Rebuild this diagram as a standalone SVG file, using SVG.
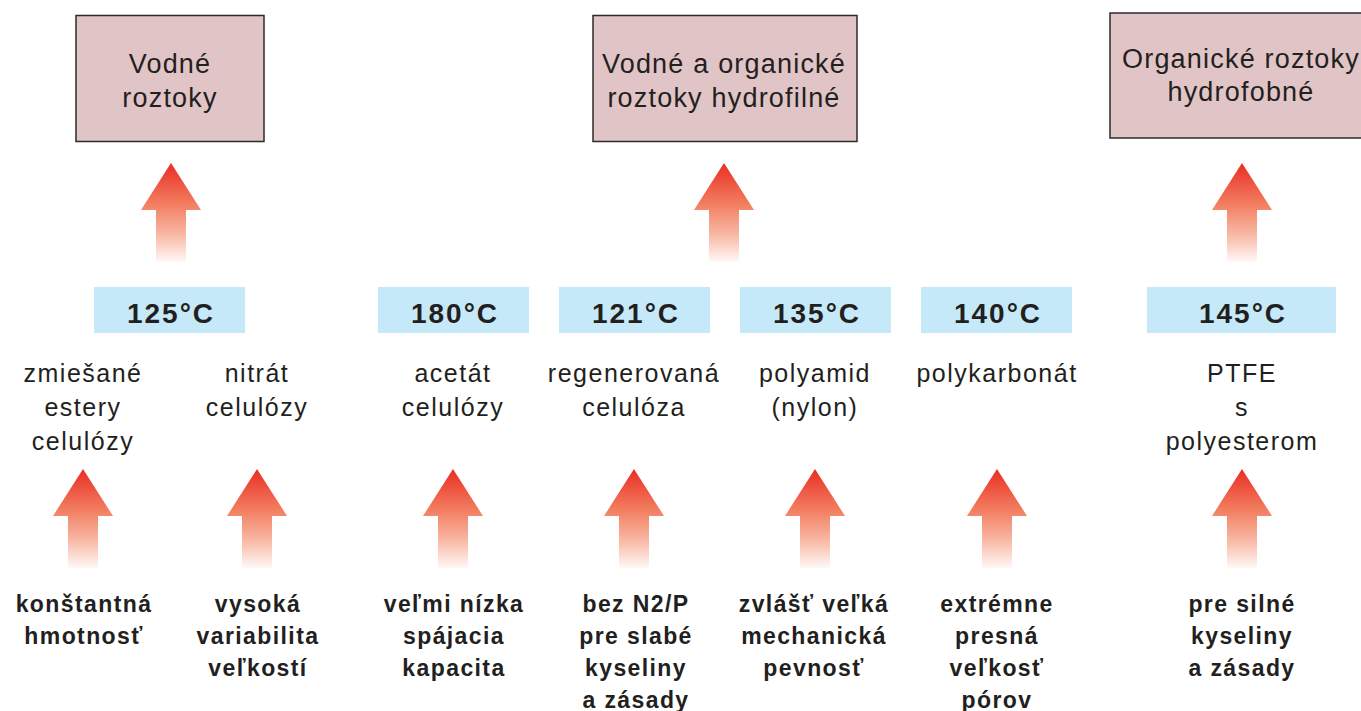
<svg xmlns="http://www.w3.org/2000/svg" width="1361" height="711" viewBox="0 0 1361 711">
  <style>
    .box { fill: #e1c4c6; stroke: #2b2b2b; stroke-width: 1.5; }
    .temp { fill: #c6e9f9; }
    .bt { font-family: "Liberation Sans", Arial, sans-serif; font-size: 27px; letter-spacing: 1.2px; fill: #231f20; text-anchor: middle; }
    .tt { font-family: "Liberation Sans", Arial, sans-serif; font-size: 28px; font-weight: bold; letter-spacing: 2px; fill: #231f20; text-anchor: middle; }
    .mt { font-family: "Liberation Sans", Arial, sans-serif; font-size: 25px; letter-spacing: 1.5px; fill: #231f20; text-anchor: middle; }
    .lt { font-family: "Liberation Sans", Arial, sans-serif; font-size: 23px; font-weight: bold; letter-spacing: 1.4px; fill: #231f20; text-anchor: middle; }
  </style>
  <defs>
    <linearGradient id="ag" x1="0" y1="0" x2="0" y2="1">
      <stop offset="0" stop-color="#e92e24"/>
      <stop offset="0.4" stop-color="#f27b5e"/>
      <stop offset="0.72" stop-color="#f8b8a4"/>
      <stop offset="1" stop-color="#fff8f6"/>
    </linearGradient>
    <path id="arrow" d="M0,0 L30,47 L15,47 L15,99 L-15,99 L-15,47 L-30,47 Z" fill="url(#ag)"/>
  </defs>
  <rect width="1361" height="711" fill="#ffffff"/>

  <g id="connectors">
    <use href="#arrow" x="171" y="163"/>
    <use href="#arrow" x="724" y="163"/>
    <use href="#arrow" x="1242" y="163"/>
    <use href="#arrow" x="83" y="469"/>
    <use href="#arrow" x="257" y="469"/>
    <use href="#arrow" x="453" y="469"/>
    <use href="#arrow" x="634" y="469"/>
    <use href="#arrow" x="815" y="469"/>
    <use href="#arrow" x="997" y="469"/>
    <use href="#arrow" x="1242" y="469"/>
  </g>

  <g id="box-vodne">
    <rect class="box" x="76" y="15.5" width="188" height="126"/>
    <text class="bt" x="170" y="73">Vodné</text>
    <text class="bt" x="170" y="107">roztoky</text>
  </g>
  <g id="box-vodne-organicke">
    <rect class="box" x="593" y="15.5" width="264" height="126"/>
    <text class="bt" x="724" y="73">Vodné a organické</text>
    <text class="bt" x="724" y="107">roztoky hydrofilné</text>
  </g>
  <g id="box-organicke">
    <rect class="box" x="1110" y="13" width="270" height="125"/>
    <text class="bt" x="1241" y="68">Organické roztoky</text>
    <text class="bt" x="1241" y="101">hydrofobné</text>
  </g>

  <g id="temp-125">
    <rect class="temp" x="94" y="287" width="151" height="46"/>
    <text class="tt" x="171" y="323">125°C</text>
  </g>
  <g id="temp-180">
    <rect class="temp" x="378" y="287" width="151" height="46"/>
    <text class="tt" x="455" y="323">180°C</text>
  </g>
  <g id="temp-121">
    <rect class="temp" x="559" y="287" width="151" height="46"/>
    <text class="tt" x="636" y="323">121°C</text>
  </g>
  <g id="temp-135">
    <rect class="temp" x="740" y="287" width="151" height="46"/>
    <text class="tt" x="817" y="323">135°C</text>
  </g>
  <g id="temp-140">
    <rect class="temp" x="921" y="287" width="151" height="46"/>
    <text class="tt" x="998" y="323">140°C</text>
  </g>
  <g id="temp-145">
    <rect class="temp" x="1147" y="287" width="189" height="46"/>
    <text class="tt" x="1243" y="323">145°C</text>
  </g>

  <g id="mat-zmiesane">
    <text class="mt" x="83" y="382">zmiešané</text>
    <text class="mt" x="83" y="416">estery</text>
    <text class="mt" x="83" y="450">celulózy</text>
  </g>
  <g id="mat-nitrat">
    <text class="mt" x="257" y="382">nitrát</text>
    <text class="mt" x="257" y="416">celulózy</text>
  </g>
  <g id="mat-acetat">
    <text class="mt" x="453" y="382">acetát</text>
    <text class="mt" x="453" y="416">celulózy</text>
  </g>
  <g id="mat-regenerovana">
    <text class="mt" x="634" y="382">regenerovaná</text>
    <text class="mt" x="634" y="416">celulóza</text>
  </g>
  <g id="mat-polyamid">
    <text class="mt" x="815" y="382">polyamid</text>
    <text class="mt" x="815" y="416">(nylon)</text>
  </g>
  <g id="mat-polykarbonat">
    <text class="mt" x="997" y="382">polykarbonát</text>
  </g>
  <g id="mat-ptfe">
    <text class="mt" x="1242" y="382">PTFE</text>
    <text class="mt" x="1242" y="416">s</text>
    <text class="mt" x="1242" y="450">polyesterom</text>
  </g>

  <g id="prop-1">
    <text class="lt" x="84" y="612">konštantná</text>
    <text class="lt" x="84" y="644">hmotnosť</text>
  </g>
  <g id="prop-2">
    <text class="lt" x="258" y="612">vysoká</text>
    <text class="lt" x="258" y="644">variabilita</text>
    <text class="lt" x="258" y="676">veľkostí</text>
  </g>
  <g id="prop-3">
    <text class="lt" x="454" y="612">veľmi nízka</text>
    <text class="lt" x="454" y="644">spájacia</text>
    <text class="lt" x="454" y="676">kapacita</text>
  </g>
  <g id="prop-4">
    <text class="lt" x="636" y="612">bez N2/P</text>
    <text class="lt" x="636" y="644">pre slabé</text>
    <text class="lt" x="636" y="676">kyseliny</text>
    <text class="lt" x="636" y="708">a zásady</text>
  </g>
  <g id="prop-5">
    <text class="lt" x="814" y="612">zvlášť veľká</text>
    <text class="lt" x="814" y="644">mechanická</text>
    <text class="lt" x="814" y="676">pevnosť</text>
  </g>
  <g id="prop-6">
    <text class="lt" x="997" y="612">extrémne</text>
    <text class="lt" x="997" y="644">presná</text>
    <text class="lt" x="997" y="676">veľkosť</text>
    <text class="lt" x="997" y="708">pórov</text>
  </g>
  <g id="prop-7">
    <text class="lt" x="1242" y="612">pre silné</text>
    <text class="lt" x="1242" y="644">kyseliny</text>
    <text class="lt" x="1242" y="676">a zásady</text>
  </g>
</svg>
